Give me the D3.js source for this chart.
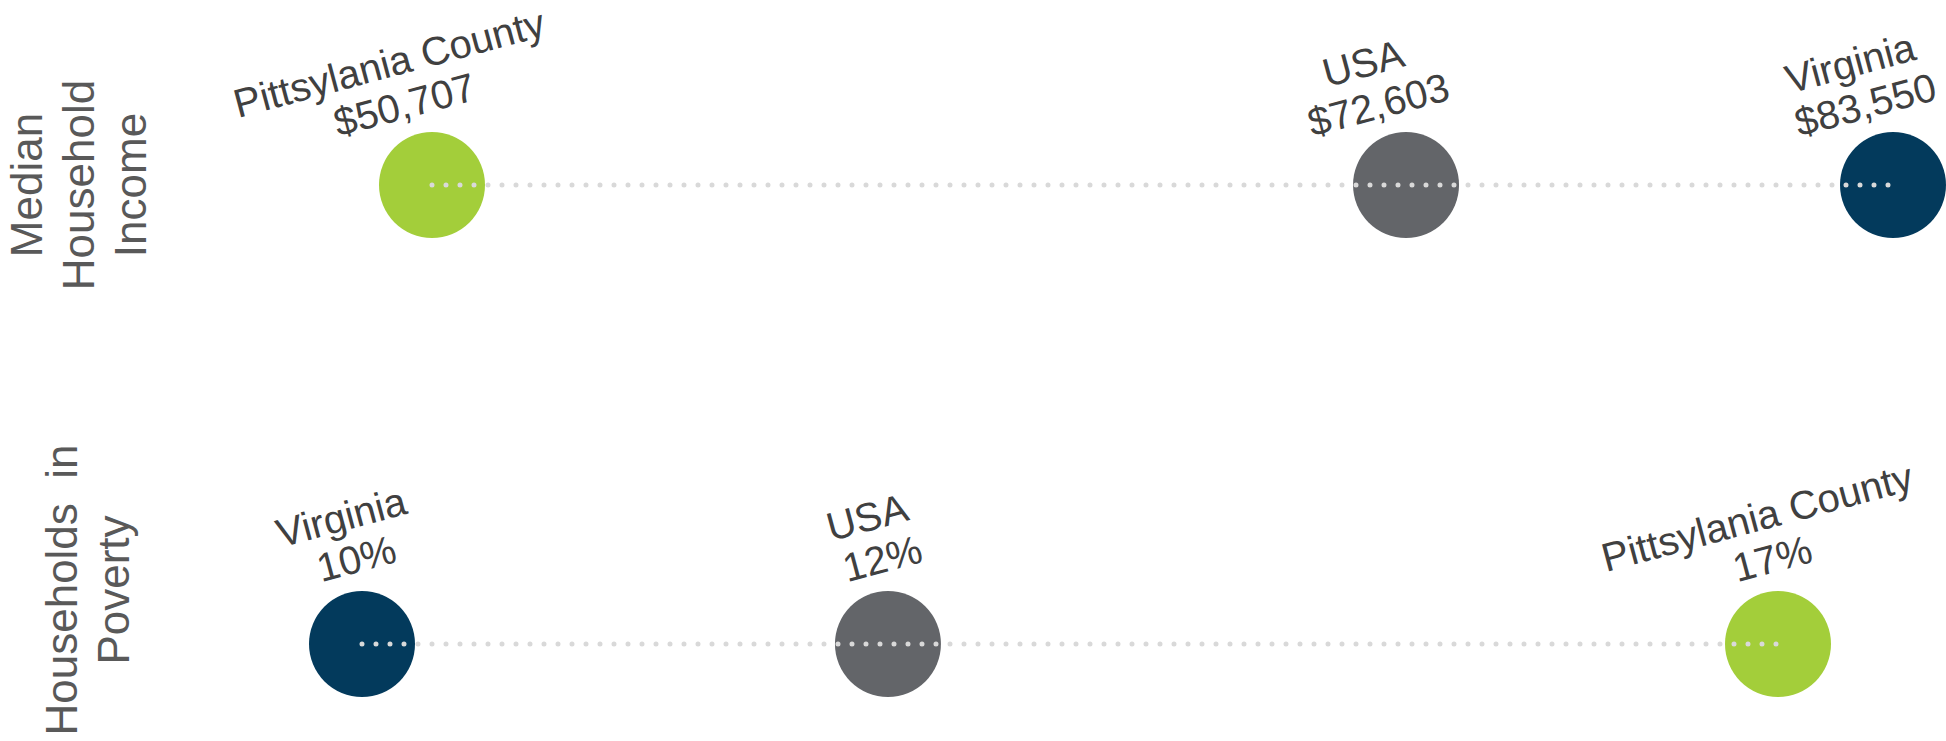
<!DOCTYPE html>
<meta charset="utf-8">
<style>
    body {
        margin: 0;
        background: #fff;
    }
    svg {
        display: block;
        font-family: "Liberation Sans", Arial, sans-serif;
    }
    .row-title {
        fill: #595959;
        font-size: 44px;
        white-space: pre;
    }
    .point-label {
        fill: #404040;
        font-size: 40px;
    }
</style>

<body>
<div id="chart-container"></div>
<script src="https://cdnjs.cloudflare.com/ajax/libs/d3/7.8.5/d3.min.js"></script>
<script>
    // places compared in each row
    var places = ["Pittsylania County", "USA", "Virginia"];
    var placeColors = ["#a3ce3a", "#636569", "#033a5c"];

    // row 1: median household income (dollars)
    var incomeValues = [50707, 72603, 83550];
    // row 2: households in poverty (percent)
    var povertyValues = [16.6, 12.2, 9.6];

    var rowTitles = [
        ["Median", "Household", "Income"],
        ["Households  in", "Poverty"]
    ];

    var width = 1946,
        height = 741,
        radius = 53,
        labelAngle = -15,
        lineHeight = 44;

    // layout of each row: vertical centre, horizontal span of the scale,
    // title position and label offset
    var rows = [
        {
            values: incomeValues,
            format: d3.format("$,"),
            y: 185,
            range: [432, 1893],
            titleX: 42, titleY: 185,
            labelDx: -24, labelDy: -67
        },
        {
            values: povertyValues,
            format: function(v) { return d3.format(".0f")(v) + "%"; },
            y: 644,
            range: [362, 1778],
            titleX: 77, titleY: 590,
            labelDx: -2, labelDy: -72
        }
    ];

    var svg = d3.select("#chart-container").append("svg")
        .attr("width", width)
        .attr("height", height);

    rows.forEach(function(row, i) {
        var data = places.map(function(p, j) {
            return { name: p, value: row.values[j], color: placeColors[j] };
        });

        var x = d3.scaleLinear()
            .domain(d3.extent(row.values))
            .range(row.range);

        var g = svg.append("g").attr("class", "row");

        // row title, rotated and stacked in lines
        var title = g.append("text")
            .attr("class", "row-title")
            .attr("text-anchor", "middle")
            .attr("transform", "translate(" + row.titleX + "," + row.titleY + ") rotate(-90)");
        title.selectAll("tspan")
            .data(rowTitles[i])
            .enter().append("tspan")
            .attr("x", 0)
            .attr("y", function(d, k) { return k * 52; })
            .text(function(d) { return d; });

        // circles
        g.selectAll("circle")
            .data(data)
            .enter().append("circle")
            .attr("cx", function(d) { return x(d.value); })
            .attr("cy", row.y)
            .attr("r", radius)
            .attr("fill", function(d) { return d.color; });

        // dotted connector from lowest to highest value, on top of circles
        var ext = d3.extent(row.values);
        g.append("line")
            .attr("x1", x(ext[0]))
            .attr("x2", x(ext[1]))
            .attr("y1", row.y)
            .attr("y2", row.y)
            .attr("stroke", "#d9d9d9")
            .attr("stroke-width", 5)
            .attr("stroke-linecap", "round")
            .attr("stroke-dasharray", "0,14");

        // tilted two-line labels above each circle
        var labels = g.selectAll(".point-label")
            .data(data)
            .enter().append("text")
            .attr("class", "point-label")
            .attr("text-anchor", "middle")
            .attr("transform", function(d) {
                return "translate(" + (x(d.value) + row.labelDx) + "," + (row.y + row.labelDy) + ") rotate(" + labelAngle + ")";
            });
        labels.append("tspan")
            .attr("x", -4)
            .attr("y", -lineHeight)
            .text(function(d) { return d.name; });
        labels.append("tspan")
            .attr("x", 0)
            .attr("y", 0)
            .text(function(d) { return row.format(d.value); });
    });
</script>
</body>

</html>
